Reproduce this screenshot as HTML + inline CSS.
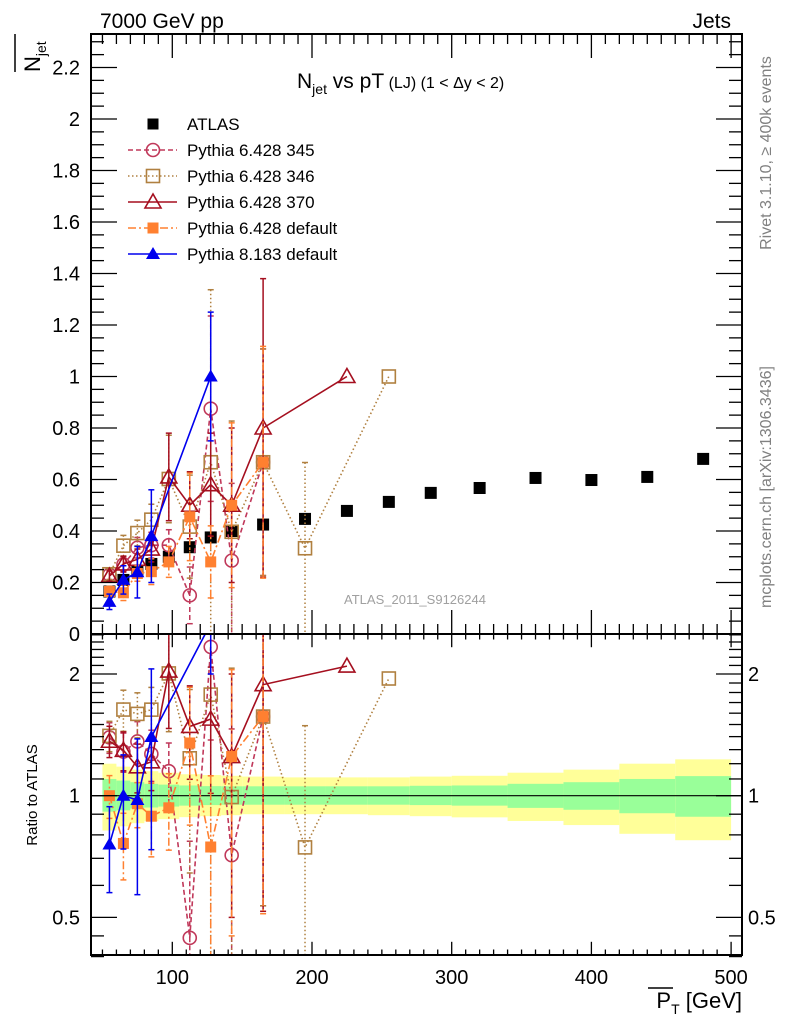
<!DOCTYPE html>
<html><head><meta charset="utf-8"><style>
html,body{margin:0;padding:0;background:#fff;overflow:hidden;width:786px;height:1024px;}
svg{display:block;font-family:"Liberation Sans",sans-serif;}
</style></head><body>
<svg id="chart" width="786" height="1024" viewBox="0 0 786 1024">
<defs>
<clipPath id="cm"><rect x="91" y="34" width="651" height="600"/></clipPath>
<clipPath id="cr"><rect x="91" y="634" width="651" height="321"/></clipPath>
</defs>
<g id="bands" clip-path="url(#cr)"></g>
<line x1="91" y1="795.7" x2="742" y2="795.7" stroke="#000" stroke-width="1.2"/>
<g id="mainSeries" clip-path="url(#cm)"></g>
<g id="ratioSeries" clip-path="url(#cr)"></g>
<g id="axes"></g>
<rect x="91" y="34" width="651" height="600" fill="none" stroke="#000" stroke-width="2"/>
<rect x="91" y="634" width="651" height="321" fill="none" stroke="#000" stroke-width="2"/>
<text x="100" y="28" font-size="21">7000 GeV pp</text>
<text x="731" y="28" font-size="21" text-anchor="end">Jets</text>
<text x="297" y="88" font-size="21">N<tspan font-size="14" dy="6">jet</tspan><tspan dy="-6"> vs pT</tspan><tspan font-size="16"> (LJ) (1 &lt; Δy &lt; 2)</tspan></text>
<g><text transform="translate(40,72) rotate(-90)" font-size="22">N<tspan font-size="14" dy="6">jet</tspan></text>
<line x1="15" y1="34" x2="15" y2="72" stroke="#000" stroke-width="1.5"/></g>
<text transform="translate(37,795) rotate(-90)" font-size="15" text-anchor="middle">Ratio to ATLAS</text>
<g><text x="742" y="1008" font-size="22" text-anchor="end">P<tspan font-size="14" dy="6">T</tspan><tspan dy="-6"> [GeV]</tspan></text>
<line x1="648" y1="988" x2="673" y2="988" stroke="#000" stroke-width="1.5"/></g>
<text transform="translate(771,153) rotate(-90)" font-size="16" fill="#808080" text-anchor="middle">Rivet 3.1.10, ≥ 400k events</text>
<text transform="translate(771,487) rotate(-90)" font-size="16" fill="#808080" text-anchor="middle">mcplots.cern.ch [arXiv:1306.3436]</text>
<text x="415" y="604" font-size="13" fill="#a0a0a0" text-anchor="middle">ATLAS_2011_S9126244</text>
<g id="legend"></g>
</svg>
<script>
const xCenters=[55,65,75,85,97.5,112.5,127.5,142.5,165,195,225,255,285,320,360,400,440,480];
const binEdges=[50,60,70,80,90,105,120,135,150,180,210,240,270,300,340,380,420,460,500];
const atlasVals=[0.165,0.21,0.246,0.272,0.30,0.337,0.375,0.40,0.425,0.447,0.478,0.513,0.548,0.567,0.606,0.598,0.61,0.68];
const yellowUp=[1.20,1.18,1.16,1.15,1.14,1.13,1.125,1.12,1.115,1.11,1.11,1.11,1.115,1.12,1.14,1.16,1.20,1.23];
const yellowDn=[0.82,0.84,0.855,0.865,0.875,0.885,0.89,0.895,0.90,0.90,0.90,0.895,0.89,0.884,0.866,0.846,0.805,0.776];
const greenUp=[1.10,1.09,1.08,1.07,1.065,1.06,1.056,1.055,1.055,1.055,1.055,1.055,1.058,1.06,1.07,1.08,1.10,1.118];
const greenDn=[0.913,0.92,0.93,0.935,0.94,0.945,0.948,0.95,0.95,0.95,0.95,0.95,0.948,0.945,0.933,0.923,0.905,0.887];
const p345X=[55,65,75,85,97.5,112.5,127.5,142.5,165];
const p345Y=[0.23,0.27,0.335,0.345,0.345,0.15,0.875,0.285,0.667];
const p345E=[0.02,0.03,0.04,0.05,0.06,0.11,0.36,0.3,0.44];
const p346X=[55,65,75,85,97.5,112.5,127.5,142.5,165,195,255];
const p346Y=[0.232,0.343,0.392,0.444,0.602,0.417,0.667,0.397,0.667,0.333,1.0];
const p346E=[0.02,0.04,0.05,0.06,0.17,0.2,0.67,0.43,0.44,0.333,0];
const p370X=[55,65,75,85,97.5,112.5,127.5,142.5,165,225];
const p370Y=[0.225,0.272,0.29,0.33,0.61,0.50,0.58,0.50,0.80,1.0];
const p370E=[0.02,0.03,0.04,0.05,0.17,0.13,0.2,0.3,0.58,0];
const pdefX=[55,65,75,85,97.5,112.5,127.5,142.5,165];
const pdefY=[0.165,0.16,0.235,0.242,0.28,0.455,0.28,0.50,0.667];
const pdefE=[0.02,0.03,0.03,0.05,0.06,0.17,0.14,0.32,0.45];
const py8X=[55,65,75,85,127.5];
const py8Y=[0.125,0.21,0.24,0.38,1.0];
const py8E=[0.03,0.055,0.1,0.18,0.25];
const yTicks=[0.2,0.4,0.6,0.8,1,1.2,1.4,1.6,1.8,2,2.2];
const xTicks=[100,200,300,400,500];
const rTicks=[0.5,1,2];

const NS="http://www.w3.org/2000/svg";
const X=v=>172.3+(v-100)*1.397;
const Y=v=>634-v*257.5;
const R=v=>795.7-Math.log2(v)*121.7;
function mk(tag,at,par){const e=document.createElementNS(NS,tag);for(const k in at)e.setAttribute(k,at[k]);par.appendChild(e);return e;}

const bands=document.getElementById('bands');
for(let i=0;i<xCenters.length;i++){
  const x0=X(binEdges[i]),x1=X(binEdges[i+1]);
  const y=mk('rect',{x:x0,y:R(yellowUp[i]),width:x1-x0,height:R(yellowDn[i])-R(yellowUp[i]),fill:'#ffff99'},bands);
  
  
  const g=mk('rect',{x:x0,y:R(greenUp[i]),width:x1-x0,height:R(greenDn[i])-R(greenUp[i]),fill:'#99ff99'},bands);
  
  
}

function marker(par,type,cx,cy,col){
  let e;
  if(type==='sq') e=mk('rect',{x:cx-6,y:cy-6,width:12,height:12,fill:col},par);
  else if(type==='fsq') e=mk('rect',{x:cx-5.5,y:cy-5.5,width:11,height:11,fill:col},par);
  else if(type==='osq') e=mk('rect',{x:cx-6.5,y:cy-6.5,width:13,height:13,fill:'none',stroke:col,'stroke-width':1.6},par);
  else if(type==='oc') e=mk('circle',{cx:cx,cy:cy,r:6.5,fill:'none',stroke:col,'stroke-width':1.6},par);
  else if(type==='otri') e=mk('polygon',{points:`${cx},${cy-8} ${cx-8},${cy+6} ${cx+8},${cy+6}`,fill:'none',stroke:col,'stroke-width':1.6},par);
  else if(type==='ftri') e=mk('polygon',{points:`${cx},${cy-7} ${cx-7},${cy+5} ${cx+7},${cy+5}`,fill:col},par);
  return e;
}

const series=[
 {name:'pythia-6428-345',xs:p345X,ys:p345Y,es:p345E,col:'#c0385a',dash:'5,3',m:'oc'},
 {name:'pythia-6428-346',xs:p346X,ys:p346Y,es:p346E,col:'#b08040',dash:'1.5,2.5',m:'osq'},
 {name:'pythia-6428-370',xs:p370X,ys:p370Y,es:p370E,col:'#a50f1f',dash:'',m:'otri'},
 {name:'pythia-6428-default',xs:pdefX,ys:pdefY,es:pdefE,col:'#ff8030',dash:'8,3,2,3',m:'fsq'},
 {name:'pythia-8183-default',xs:py8X,ys:py8Y,es:py8E,col:'#0000ee',dash:'',m:'ftri'}
];
function atl(x){return atlasVals[xCenters.indexOf(x)];}
function drawSeries(par,s,fy,ratio){
  const g=mk('g',{},par);
  
  
  const vals=s.xs.map((x,i)=>ratio?s.ys[i]/atl(x):s.ys[i]);
  const errs=s.xs.map((x,i)=>ratio?s.es[i]/atl(x):s.es[i]);
  const pts=s.xs.map((x,i)=>X(x)+','+fy(vals[i])).join(' ');
  const ln=mk('polyline',{points:pts,fill:'none',stroke:s.col,'stroke-width':1.6,'stroke-dasharray':s.dash},g);
  
  
  s.xs.forEach((x,i)=>{
    if(errs[i]>0){
      const lo=Math.max(vals[i]-errs[i],ratio?0.35:-0.05);
      const hi=Math.min(vals[i]+errs[i],ratio?2.8:2.5);
      const cx=X(x),t=fy(hi),b=fy(lo);
      const eb=mk('g',{stroke:s.col,'stroke-width':1.5},g);
      
      
      mk('line',{x1:cx,y1:t,x2:cx,y2:b,'stroke-dasharray':s.dash},eb);
      mk('line',{x1:cx-3,y1:t,x2:cx+3,y2:t},eb);
      mk('line',{x1:cx-3,y1:b,x2:cx+3,y2:b},eb);
    }
    const m=marker(g,s.m,X(x),fy(vals[i]),s.col);
    
    
  });
}
const ms=document.getElementById('mainSeries'),rs=document.getElementById('ratioSeries');
const ag=mk('g',{},ms);


xCenters.forEach((x,i)=>{const m=marker(ag,'sq',X(x),Y(atlasVals[i]),'#000');
 
 });
series.forEach(s=>{drawSeries(ms,s,Y,false);drawSeries(rs,s,R,true);});

const ax=document.getElementById('axes');
function tl(x1,y1,x2,y2){mk('line',{x1,y1,x2,y2,stroke:'#000','stroke-width':1.3},ax);}
function lab(x,y,t,anchor){const e=mk('text',{x,y,'font-size':20,'text-anchor':anchor},ax);e.textContent=t;
 
 }
for(let v=50;v<=500;v+=10){const x=X(v),maj=v%100===0;const L=maj?24:10;
 tl(x,634,x,634-L);tl(x,34,x,34+L);tl(x,634,x,634+L*0.55);tl(x,955,x,955-L*0.55);}
xTicks.forEach(v=>lab(X(v),984,String(v),'middle'));
for(let k=1;k<=46;k++){const v=k*0.05,y=Y(v);const maj=k%4===0;const L=maj?26:13;
 tl(91,y,91+L,y);tl(742,y,742-L,y);}
yTicks.forEach(v=>lab(80,Y(v)+7,String(v),'end'));
lab(80,641,'0','end');
const rMinor=[0.4,0.45,0.5,0.6,0.7,0.8,0.9,1,1.1,1.2,1.3,1.4,1.5,1.6,1.7,1.8,1.9,2,2.1,2.2,2.3,2.4,2.5];
rMinor.forEach(v=>{const y=R(v);const maj=rTicks.includes(v);const L=maj?26:13;
 tl(91,y,91+L,y);tl(742,y,742-L,y);});
rTicks.forEach(v=>{lab(80,R(v)+7,String(v),'end');lab(748,R(v)+7,String(v),'start');});

const lg=document.getElementById('legend');
const legNames=['ATLAS','Pythia 6.428 345','Pythia 6.428 346','Pythia 6.428 370','Pythia 6.428 default','Pythia 8.183 default'];
legNames.forEach((n,i)=>{
 const y=124+i*26;
 const g=mk('g',{},lg);
 
 
 if(i===0){marker(g,'fsq',153,y,'#000');}
 else{const s=series[i-1];
  mk('line',{x1:128,y1:y,x2:177,y2:y,stroke:s.col,'stroke-width':1.6,'stroke-dasharray':s.dash},g);
  marker(g,s.m,153,y,s.col);}
 const t=mk('text',{x:187,y:y+6,'font-size':17},g);t.textContent=n;
});
</script>
</body></html>
